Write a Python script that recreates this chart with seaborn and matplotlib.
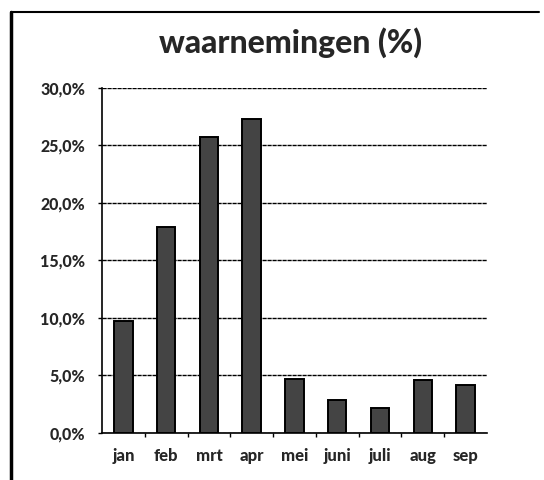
import numpy as np
import pandas as pd
import matplotlib
matplotlib.use("Agg")
import matplotlib.pyplot as plt
from matplotlib.ticker import FuncFormatter, FixedLocator
from matplotlib.lines import Line2D
import seaborn as sns

months = ["jan", "feb", "mrt", "apr", "mei", "juni", "juli", "aug", "sep"]
waarnemingen = [9.7, 17.9, 25.7, 27.3, 4.7, 2.9, 2.2, 4.6, 4.2]
y_ticks = [0, 5, 10, 15, 20, 25, 30]

df = pd.DataFrame({"maand": months, "pct": waarnemingen})

sns.set_style("white")
plt.rcParams["font.family"] = ["Lato", "DejaVu Sans"]

fig = plt.figure(figsize=(5.44, 4.8), dpi=100)
ax = fig.add_axes([0.1875, 0.098, 0.7075, 0.7187])

sns.barplot(data=df, x="maand", y="pct", ax=ax, color="#444444",
            width=0.43, edgecolor="black", linewidth=1.4, saturation=1)

ax.set_ylim(0, 30)
ax.set_xlim(-0.5, len(months) - 0.5)
ax.set_yticks(y_ticks)
ax.yaxis.set_major_formatter(FuncFormatter(lambda v, p: "{:.1f}%".format(v).replace(".", ",")))
ax.yaxis.grid(True, color="black", linewidth=1.0, linestyle=(0, (3, 0.6)))
ax.set_axisbelow(True)

ax.xaxis.set_minor_locator(FixedLocator(np.arange(0.5, len(months) - 0.5, 1)))
ax.tick_params(axis="x", which="major", length=0, pad=11, labelsize=12)
ax.tick_params(axis="x", which="minor", length=3, width=1, color="black", bottom=True, direction="out")
ax.tick_params(axis="y", length=3, width=1, color="black", left=True, pad=9, labelsize=11.5)
for lab in ax.get_xticklabels() + ax.get_yticklabels():
    lab.set_fontweight("black")

ax.set_xlabel("")
ax.set_ylabel("")
for s in ["top", "right"]:
    ax.spines[s].set_visible(False)
for s in ["left", "bottom"]:
    ax.spines[s].set_color("black")
    ax.spines[s].set_linewidth(1.2)

fig.text(0.535, 0.912, "waarnemingen (%)", ha="center", va="center",
         fontsize=23, fontweight="black")

# chart frame
fig.add_artist(Line2D([0.02, 0.02], [0.0, 0.975], color="black", linewidth=2.5, transform=fig.transFigure))
fig.add_artist(Line2D([0.02, 0.99], [0.975, 0.975], color="black", linewidth=1.5, transform=fig.transFigure))

fig.savefig("out.png", dpi=100, facecolor="w")
